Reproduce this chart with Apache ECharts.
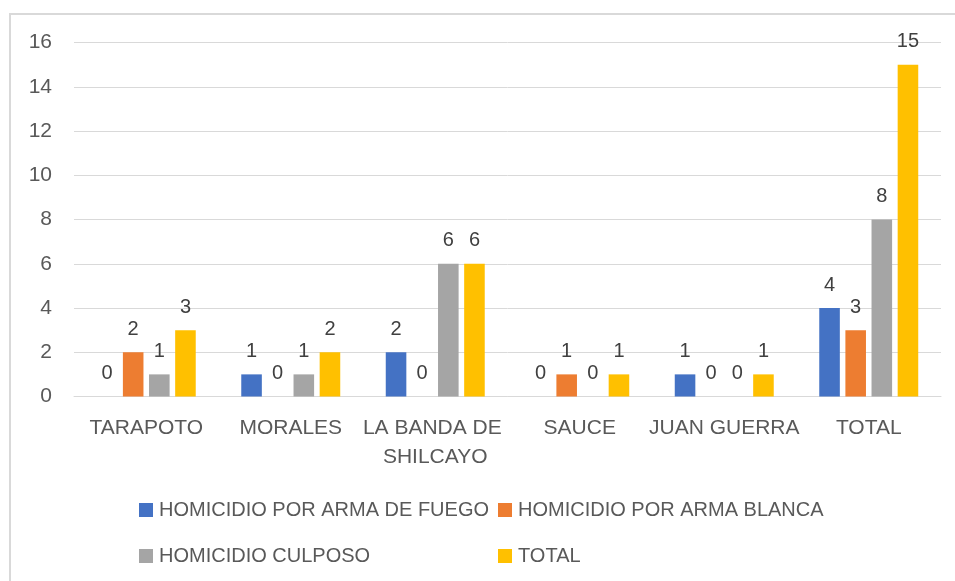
<!DOCTYPE html>
<html>
<head>
<meta charset="utf-8">
<script src="https://cdn.jsdelivr.net/npm/echarts@6/dist/echarts.min.js"></script>
<style>
  html, body { margin: 0; padding: 0; background: #fff; }
  #chart { width: 955px; height: 581px; }
</style>
</head>
<body>
<div id="chart"></div>
<script>
// Homicide counts by district
const categories = ['TARAPOTO', 'MORALES', 'LA BANDA DE SHILCAYO', 'SAUCE', 'JUAN GUERRA', 'TOTAL'];
const seriesNames = ['HOMICIDIO POR ARMA DE FUEGO', 'HOMICIDIO POR ARMA BLANCA', 'HOMICIDIO CULPOSO', 'TOTAL'];
const armaFuego = [0, 1, 2, 0, 1, 4];
const armaBlanca = [2, 0, 0, 1, 0, 3];
const culposo = [1, 1, 6, 0, 0, 8];
const totales = [3, 2, 6, 1, 1, 15];
const colors = ['#4472C4', '#ED7D31', '#A5A5A5', '#FFC000'];

const FONT = 'Liberation Sans';
const TEXT = '#595959';
const values = [armaFuego, armaBlanca, culposo, totales];

const chart = echarts.init(document.getElementById('chart'));

// legend laid out as a 2x2 block
const legendPos = [
  { left: 139, top: 500 },
  { left: 498, top: 500 },
  { left: 139, top: 546 },
  { left: 498, top: 546 }
];

chart.setOption({
  animation: false,
  textStyle: { fontFamily: FONT },
  graphic: [{
    type: 'rect',
    shape: { x: 10, y: 14, width: 1000, height: 1000 },
    style: { fill: 'none', stroke: '#D9D9D9', lineWidth: 2 },
    silent: true
  }],
  grid: { left: 74, right: 14, top: 42.5, bottom: 184.5, containLabel: false },
  legend: seriesNames.map((n, i) => ({
    data: [n],
    left: legendPos[i].left,
    top: legendPos[i].top,
    padding: 0,
    itemWidth: 14,
    itemHeight: 14,
    itemGap: 0,
    icon: 'rect',
    textStyle: { color: TEXT, fontSize: 20, fontFamily: FONT, padding: [0, 0, 0, 1] }
  })),
  xAxis: {
    type: 'category',
    data: categories,
    axisLine: { lineStyle: { color: '#D9D9D9', width: 1 } },
    axisTick: { show: false },
    axisLabel: {
      color: TEXT, fontSize: 21, fontFamily: FONT, margin: 17,
      width: 152, overflow: 'break', lineHeight: 29, interval: 0
    }
  },
  yAxis: {
    type: 'value',
    min: 0, max: 16, interval: 2,
    axisLine: { show: false },
    axisTick: { show: false },
    splitLine: { lineStyle: { color: '#D9D9D9', width: 1 } },
    axisLabel: { color: TEXT, fontSize: 21, fontFamily: FONT, margin: 22 }
  },
  series: seriesNames.map((n, i) => ({
    name: n,
    type: 'bar',
    data: values[i],
    barGap: '27%',
    barCategoryGap: '31.5%',
    itemStyle: { color: colors[i] },
    label: {
      show: true, position: 'top', distance: 13,
      color: '#404040', fontSize: 20, fontFamily: FONT
    }
  }))
});
</script>
</body>
</html>
